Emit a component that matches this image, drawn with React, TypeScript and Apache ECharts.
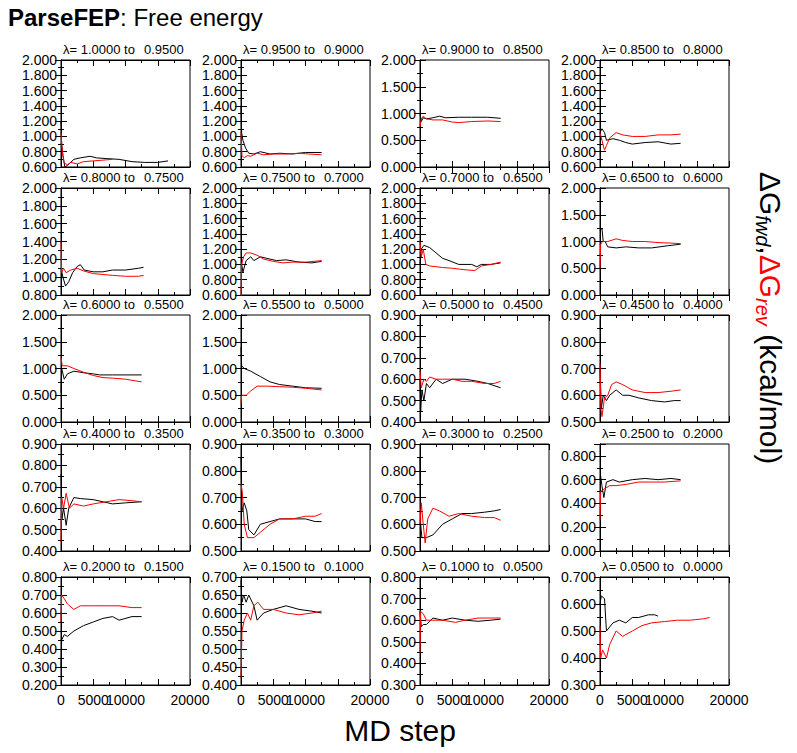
import React, { useEffect, useRef } from "react";
import * as echarts from "echarts";

type Pt = [number, number];

const lambdaFrom = ["1.0000", "0.9500", "0.9000", "0.8500", "0.8000", "0.7500", "0.7000", "0.6500", "0.6000", "0.5500", "0.5000", "0.4500", "0.4000", "0.3500", "0.3000", "0.2500", "0.2000", "0.1500", "0.1000", "0.0500"];
const lambdaTo = ["0.9500", "0.9000", "0.8500", "0.8000", "0.7500", "0.7000", "0.6500", "0.6000", "0.5500", "0.5000", "0.4500", "0.4000", "0.3500", "0.3000", "0.2500", "0.2000", "0.1500", "0.1000", "0.0500", "0.0000"];

// y axis ranges per panel: [min, max, interval]
const yRanges: [number, number, number][] = [
  [0.6, 2, 0.2], [0.6, 2, 0.2], [0, 2, 0.5], [0.6, 2, 0.2],
  [0.8, 2, 0.2], [0.6, 2, 0.2], [0.6, 2, 0.2], [0, 2, 0.5],
  [0, 2, 0.5], [0, 2, 0.5], [0.4, 0.9, 0.1], [0.5, 0.9, 0.1],
  [0.4, 0.9, 0.1], [0.5, 0.9, 0.1], [0.5, 0.9, 0.1], [0, 0.9, 0.2],
  [0.2, 0.8, 0.1], [0.4, 0.7, 0.05], [0.3, 0.8, 0.1], [0.3, 0.7, 0.1],
];

const fwd: Pt[][] = [
  [[0,1.2],[100,0.9],[300,0.75],[600,0.6],[1000,0.62],[2000,0.7],[3000,0.72],[4500,0.74],[5500,0.72],[7000,0.71],[9000,0.7],[11000,0.67],[13000,0.66],[15000,0.66],[16600,0.68]],
  [[0,1.4],[100,1.05],[300,0.95],[700,0.85],[1200,0.78],[2000,0.77],[3000,0.8],[4500,0.77],[6000,0.78],[8000,0.77],[10000,0.79],[12500,0.79]],
  [[0,1.0],[200,0.85],[500,0.92],[1000,0.9],[2000,0.92],[3000,0.95],[4000,0.92],[6000,0.93],[8000,0.93],[10500,0.93],[12500,0.91]],
  [[0,1.05],[300,1.1],[700,1.05],[1000,0.95],[2000,0.97],[3000,0.95],[4000,0.92],[5000,0.9],[7000,0.92],[9000,0.93],[11000,0.9],[12500,0.91]],
  [[0,1.1],[300,1.0],[700,0.9],[1200,0.95],[1800,1.05],[2500,1.12],[3000,1.14],[3600,1.08],[5000,1.06],[6500,1.06],[8000,1.08],[10000,1.08],[12000,1.1],[12800,1.11]],
  [[0,1.75],[100,1.0],[300,0.9],[800,1.05],[1500,1.1],[2000,1.05],[3000,1.1],[4000,1.08],[5500,1.05],[7000,1.06],[9000,1.03],[11000,1.02],[12500,1.04]],
  [[0,1.0],[200,1.2],[600,1.25],[1500,1.22],[2500,1.15],[3500,1.08],[4500,1.05],[6000,1.0],[8000,1.0],[8800,0.97],[9500,1.0],[11000,1.0],[12500,1.02]],
  [[0,1.2],[300,1.25],[500,1.0],[800,1.0],[1200,0.9],[2500,0.88],[4000,0.9],[6000,0.88],[8000,0.88],[10500,0.92],[12500,0.95]],
  [[0,0.55],[100,1.0],[500,0.8],[1000,0.9],[2000,0.95],[3500,0.92],[5000,0.9],[6000,0.88],[8000,0.88],[12500,0.88]],
  [[0,1.4],[100,1.05],[500,1.0],[1500,0.95],[3000,0.85],[4500,0.75],[6000,0.7],[8000,0.67],[10000,0.64],[12500,0.63]],
  [[0,0.6],[100,0.45],[300,0.55],[600,0.5],[1000,0.58],[1500,0.56],[2500,0.6],[3500,0.58],[5000,0.6],[7000,0.6],[9000,0.59],[10500,0.58],[11500,0.57],[12500,0.56]],
  [[0,0.7],[200,0.55],[500,0.6],[1000,0.58],[1500,0.6],[2500,0.62],[3500,0.6],[4500,0.6],[6000,0.59],[8000,0.58],[10000,0.575],[11500,0.58],[12500,0.58]],
  [[0,0.76],[150,0.55],[400,0.6],[800,0.52],[1200,0.6],[2000,0.65],[3000,0.645],[5000,0.64],[6500,0.63],[8000,0.62],[10000,0.625],[12500,0.63]],
  [[0,0.85],[150,0.65],[500,0.68],[900,0.65],[1200,0.58],[2000,0.56],[3000,0.6],[4500,0.61],[6000,0.62],[8000,0.62],[10000,0.62],[11500,0.61],[12500,0.61]],
  [[0,0.85],[100,0.6],[300,0.55],[1000,0.55],[2000,0.56],[3500,0.6],[5000,0.62],[6500,0.64],[8000,0.64],[10000,0.645],[11500,0.65],[12500,0.655]],
  [[0,0.6],[100,0.63],[300,0.55],[600,0.45],[1000,0.58],[2000,0.6],[3000,0.58],[5000,0.6],[7000,0.61],[9000,0.6],[11000,0.61],[12500,0.6]],
  [[0,0.3],[100,0.45],[500,0.48],[1000,0.47],[2000,0.5],[3500,0.53],[5000,0.55],[6500,0.57],[8000,0.58],[9000,0.56],[11000,0.58],[12500,0.58]],
  [[0,0.69],[150,0.63],[400,0.65],[800,0.63],[1200,0.65],[2000,0.62],[2500,0.58],[3500,0.6],[5000,0.61],[7000,0.62],[9000,0.61],[11000,0.605],[12500,0.6]],
  [[0,0.64],[200,0.57],[500,0.58],[1000,0.58],[2000,0.61],[3500,0.6],[5000,0.61],[7000,0.6],[9000,0.595],[11000,0.6],[12500,0.605]],
  [[0,0.6],[200,0.63],[700,0.62],[1000,0.5],[2000,0.53],[3000,0.54],[4000,0.53],[5000,0.55],[6000,0.55],[7500,0.56],[8500,0.56],[9000,0.555]],
];

const rev: Pt[][] = [
  [[0,1.05],[200,0.8],[500,0.65],[1000,0.63],[1500,0.66],[2500,0.64],[3500,0.67],[5000,0.68],[6500,0.69],[8000,0.7]],
  [[0,1.05],[150,0.75],[500,0.72],[1000,0.75],[1500,0.74],[2500,0.78],[3500,0.76],[5000,0.77],[7000,0.77],[9000,0.78],[10500,0.77],[12500,0.76]],
  [[0,0.75],[200,0.9],[500,0.95],[1000,0.9],[2000,0.88],[3500,0.88],[5000,0.84],[6000,0.83],[8000,0.85],[10500,0.86],[12500,0.85]],
  [[0,1.05],[300,0.95],[700,0.82],[1000,0.88],[1500,0.98],[2500,1.05],[3500,1.02],[5000,1.0],[7000,1.0],[9000,1.02],[11000,1.02],[12500,1.03]],
  [[0,1.4],[100,1.05],[400,1.1],[800,1.05],[1500,1.08],[2500,1.1],[3500,1.07],[5000,1.04],[6500,1.03],[8000,1.02],[10000,1.01],[12000,1.01],[12800,1.02]],
  [[0,0.55],[100,1.0],[400,1.1],[800,1.15],[1500,1.15],[2500,1.12],[3500,1.07],[5000,1.04],[6500,1.02],[8000,1.03],[10000,1.03],[12500,1.05]],
  [[0,1.3],[200,1.1],[500,1.2],[900,1.0],[1500,0.98],[2500,0.97],[3500,0.96],[5000,0.95],[7000,0.93],[8500,0.92],[9500,0.98],[11000,1.0],[12500,1.03]],
  [[0,0.5],[100,0.95],[400,1.0],[1200,1.0],[2500,1.05],[3500,1.02],[5000,1.0],[7000,1.0],[9000,0.98],[11000,0.97],[12500,0.96]],
  [[0,1.2],[200,1.05],[1000,1.05],[2000,1.0],[3500,0.93],[5000,0.87],[6500,0.83],[8000,0.82],[10000,0.8],[12500,0.75]],
  [[0,0.35],[100,0.5],[800,0.5],[1500,0.58],[2500,0.67],[4000,0.67],[6000,0.66],[8000,0.65],[10000,0.63],[12500,0.6]],
  [[0,0.64],[200,0.56],[600,0.6],[1000,0.59],[1500,0.61],[2500,0.6],[3500,0.6],[5000,0.6],[6500,0.59],[8000,0.59],[10000,0.58],[11500,0.58],[12500,0.59]],
  [[0,0.72],[150,0.55],[300,0.52],[700,0.59],[1200,0.6],[1800,0.64],[2500,0.65],[3500,0.64],[5000,0.62],[7000,0.61],[9000,0.61],[11000,0.615],[12500,0.62]],
  [[0,0.44],[100,0.65],[400,0.6],[800,0.67],[1300,0.6],[2000,0.62],[3500,0.61],[5000,0.62],[7000,0.63],[9000,0.64],[11000,0.635],[12500,0.63]],
  [[0,0.75],[200,0.72],[500,0.6],[1000,0.55],[2000,0.55],[3000,0.57],[4500,0.6],[6000,0.62],[8000,0.62],[10000,0.63],[11500,0.63],[12500,0.64]],
  [[0,0.6],[200,0.68],[500,0.6],[800,0.53],[1200,0.62],[2000,0.66],[3000,0.65],[4500,0.63],[6000,0.64],[8000,0.63],[10000,0.625],[11500,0.625],[12500,0.615]],
  [[0,0.26],[100,0.5],[600,0.52],[1500,0.55],[2500,0.55],[4000,0.56],[6000,0.58],[8000,0.58],[10000,0.58],[12500,0.59]],
  [[0,0.55],[100,0.7],[500,0.68],[1000,0.65],[2000,0.62],[3000,0.64],[5000,0.64],[7000,0.64],[9000,0.64],[11000,0.63],[12500,0.63]],
  [[0,0.42],[150,0.55],[500,0.58],[1000,0.6],[1500,0.58],[2000,0.62],[2600,0.63],[3500,0.61],[5000,0.61],[7000,0.6],[9000,0.595],[11000,0.6],[12500,0.605]],
  [[0,0.45],[100,0.64],[500,0.63],[1000,0.6],[2000,0.6],[3500,0.6],[5500,0.59],[7000,0.6],[9000,0.61],[11000,0.61],[12500,0.61]],
  [[0,0.52],[100,0.4],[400,0.43],[1000,0.4],[1500,0.45],[2500,0.5],[3500,0.48],[5000,0.5],[6500,0.52],[8000,0.53],[10000,0.535],[12000,0.54],[14000,0.54],[16000,0.545],[17000,0.55]],
];

const colLeft = [61, 241, 420, 600];
const rowTop = [60, 188, 315, 444, 577];
const FONT = "Liberation Sans, Arial, sans-serif";

export default function App() {
  const ref = useRef<HTMLDivElement>(null);

  useEffect(() => {
    document.body.style.margin = "0";
    if (!ref.current) return;
    const chart = echarts.init(ref.current, null, { renderer: "svg" });

    const grids: any[] = [];
    const xAxes: any[] = [];
    const yAxes: any[] = [];
    const series: any[] = [];
    const graphic: any[] = [];

    for (let i = 0; i < 20; i++) {
      const r = Math.floor(i / 4);
      const c = i % 4;
      const h = r === 4 ? 108 : 107;
      grids.push({ left: colLeft[c], top: rowTop[r], width: 129, height: h, show: true, borderColor: "#000", borderWidth: 1 });
      const [ymin, ymax, yint] = yRanges[i];
      const tick = { inside: true, length: 6, lineStyle: { color: "#000" } };
      const minor = { show: true, splitNumber: 2, length: 3, lineStyle: { color: "#000" } };
      const common = { type: "value", gridIndex: i, splitLine: { show: false }, axisLine: { show: true, lineStyle: { color: "#000" } } };
      xAxes.push({
        ...common, position: "bottom", min: 0, max: 20000, interval: 5000,
        axisTick: tick, minorTick: minor,
        axisLabel: { show: r === 4, color: "#000", fontFamily: FONT, fontSize: 14, margin: 8, showMaxLabel: true, formatter: (v: number) => String(v) },
      });
      xAxes.push({ ...common, position: "top", min: 0, max: 20000, interval: 5000, axisTick: tick, minorTick: minor, axisLabel: { show: false } });
      yAxes.push({
        ...common, position: "left", min: ymin, max: ymax, interval: yint,
        axisTick: tick, minorTick: minor,
        axisLabel: {
          color: "#000", fontFamily: FONT, fontSize: 14, margin: 4,
          formatter: (v: number) => (v > ymax + 1e-9 ? "" : v.toFixed(3)),
        },
      });
      yAxes.push({ ...common, position: "right", min: ymin, max: ymax, interval: yint, axisTick: tick, minorTick: minor, axisLabel: { show: false } });

      const line = (data: Pt[], color: string) => ({
        type: "line", xAxisIndex: 2 * i, yAxisIndex: 2 * i, data, showSymbol: false, symbol: "none",
        lineStyle: { color, width: 1 }, clip: true,
      });
      series.push(line(fwd[i], "#000"));
      series.push(line(rev[i], "#ff0000"));

      graphic.push({
        type: "text", left: colLeft[c] + 2, top: rowTop[r] - 17,
        style: { text: `λ= ${lambdaFrom[i]} to`, font: `13px ${FONT}`, fill: "#000" },
      });
      graphic.push({
        type: "text", left: colLeft[c] + 129 - 46, top: rowTop[r] - 17,
        style: { text: lambdaTo[i], font: `13px ${FONT}`, fill: "#000" },
      });
    }

    graphic.push({
      type: "text", left: 8, top: 5,
      style: {
        text: "{b|ParseFEP}{n|: Free energy}",
        rich: {
          b: { font: `bold 24px ${FONT}`, fill: "#000" },
          n: { font: `24px ${FONT}`, fill: "#000" },
        },
      },
    });
    graphic.push({
      type: "text", x: 400, y: 730,
      style: { text: "MD step", font: `30px ${FONT}`, fill: "#000", align: "center", verticalAlign: "middle" },
    });
    graphic.push({
      type: "text", x: 770, y: 318, rotation: -Math.PI / 2,
      style: {
        text: "{g|ΔG}{s|fwd}{g|,}{r|ΔG}{rs|rev}{g| (kcal/mol)}",
        align: "center", verticalAlign: "middle",
        rich: {
          g: { font: `30px ${FONT}`, fill: "#000" },
          s: { font: `italic 20px ${FONT}`, fill: "#000", padding: [14, 0, 0, 0] },
          r: { font: `30px ${FONT}`, fill: "#ff0000" },
          rs: { font: `italic 20px ${FONT}`, fill: "#ff0000", padding: [14, 0, 0, 0] },
        },
      },
    });

    chart.setOption({ animation: false, backgroundColor: "#fff", grid: grids, xAxis: xAxes, yAxis: yAxes, series, graphic });
    return () => chart.dispose();
  }, []);

  return <div ref={ref} style={{ width: 797, height: 753 }} />;
}
